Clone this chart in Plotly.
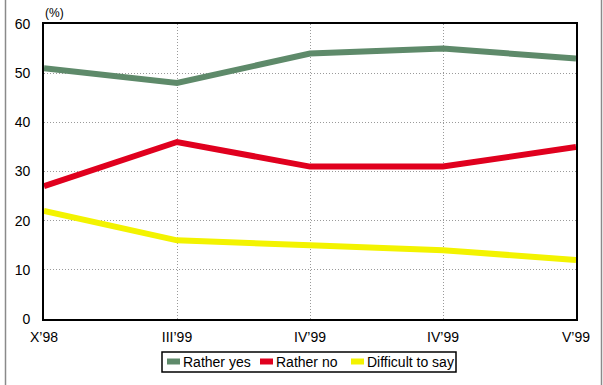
import plotly.graph_objects as go

categories = ["X’98", "III’99", "IV’99", "IV’99", "V’99"]
series_names = ["Rather yes", "Rather no", "Difficult to say"]
rather_yes = [51, 48, 54, 55, 53]
rather_no = [27, 36, 31, 31, 35]
difficult = [22, 16, 15, 14, 12]
colors = ["#5E8A6A", "#E0001E", "#F3F300"]

W, H = 603, 385
x = list(range(len(categories)))

def px(v):
    return v / W

def py(v):
    return 1 - v / H

fig = go.Figure()
for name, vals, col in zip(series_names, [rather_yes, rather_no, difficult], colors):
    fig.add_trace(go.Scatter(x=x, y=vals, mode="lines", name=name, showlegend=False,
                             line=dict(color=col, width=6)))

grid = dict(showgrid=True, gridcolor="#9A9A9A", griddash="1px,2px", gridwidth=1,
            showline=True, linecolor="black", linewidth=1.6, mirror=True,
            ticks="", zeroline=False, automargin=False)

fig.update_layout(
    width=W, height=H,
    margin=dict(l=0, r=0, t=0, b=0, autoexpand=False),
    paper_bgcolor="white", plot_bgcolor="white",
    font=dict(family="Liberation Sans, Arial, sans-serif", size=14, color="black"),
    showlegend=False,
    xaxis=dict(domain=[px(44), px(576)], range=[0, 4], tickvals=x, ticktext=categories,
               ticklabelstandoff=4, **grid),
    yaxis=dict(domain=[py(319), py(24)], range=[0, 60], dtick=10,
               ticklabelstandoff=9, **grid),
)

fig.add_annotation(text="(%)", xref="paper", yref="paper", x=px(43), y=py(13),
                   xanchor="left", yanchor="middle", showarrow=False,
                   font=dict(size=12))

# legend (drawn manually to match the reference's compact box)
fig.add_shape(type="rect", xref="paper", yref="paper",
              x0=px(162), x1=px(456), y0=py(372), y1=py(352),
              line=dict(color="black", width=1.5), fillcolor="white")
sym_x = [167, 260, 351]
for name, col, sx in zip(series_names, colors, sym_x):
    fig.add_shape(type="rect", xref="paper", yref="paper",
                  x0=px(sx), x1=px(sx + 13), y0=py(364.5), y1=py(358.5),
                  line=dict(width=0), fillcolor=col)
    fig.add_annotation(text=name, xref="paper", yref="paper", x=px(sx + 14), y=py(362),
                       xanchor="left", yanchor="middle", showarrow=False,
                       font=dict(size=14))

# outer frame vertical lines
for fx in [5.5, 601.5]:
    fig.add_shape(type="line", xref="paper", yref="paper",
                  x0=px(fx), x1=px(fx), y0=0, y1=1,
                  line=dict(color="#8A8A8A", width=1.5))

fig.write_html("out.html")
